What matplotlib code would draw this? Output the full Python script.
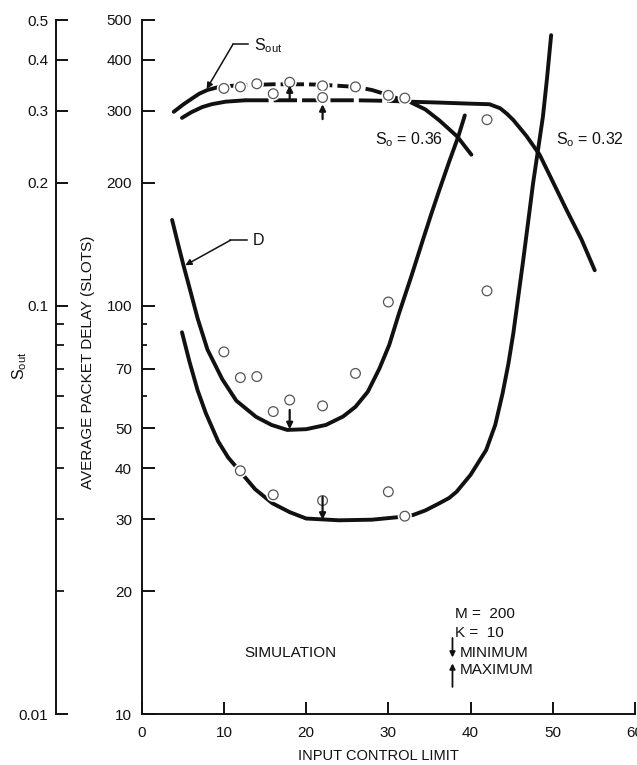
import matplotlib
matplotlib.use("Agg")
import matplotlib.pyplot as plt
import matplotlib.patheffects as pe
from matplotlib.ticker import FixedLocator, FixedFormatter, NullFormatter
import numpy as np

plt.rcParams['font.family'] = ['Liberation Sans', 'DejaVu Sans']
plt.rcParams['mathtext.fontset'] = 'custom'
plt.rcParams['mathtext.rm'] = 'Liberation Sans'
plt.rcParams['mathtext.it'] = 'Liberation Sans:italic'
plt.rcParams['mathtext.bf'] = 'Liberation Sans:bold'

# ---------------- data ----------------
x_ticks = [0, 10, 20, 30, 40, 50, 60]
delay_ticks = [10, 20, 30, 40, 50, 70, 100, 200, 300, 400, 500]
delay_minor = [60, 80, 90]
sout_ticks = [0.01, 0.1, 0.2, 0.3, 0.4, 0.5]
sout_tick_labels = ['0.01', '0.1', '0.2', '0.3', '0.4', '0.5']
sout_minor = [0.02, 0.03, 0.04, 0.05, 0.06, 0.07, 0.08, 0.09]

# S_out curve, S_o = 0.36
sout36_x = [3.9, 5.0, 6.1, 7.0, 8.0, 9.2, 10.0, 12.0, 14.0, 16.0, 18.0, 20.0, 22.0,
            24.0, 26.0, 28.0, 29.9, 31.0, 32.5, 34.5, 36.2, 38.4, 40.1]
sout36_y = [0.298, 0.310, 0.321, 0.330, 0.337, 0.342, 0.344, 0.346, 0.347, 0.348,
            0.348, 0.348, 0.347, 0.345, 0.343, 0.337, 0.328, 0.322, 0.316, 0.302,
            0.284, 0.259, 0.234]
# S_out curve, S_o = 0.32
sout32_x = [4.9, 6.0, 7.35, 8.5, 10.2, 12.6, 15.0, 18.0, 22.0, 26.0, 30.0, 32.6,
            36.0, 40.0, 42.3, 43.6, 44.4, 45.2, 46.8, 48.4, 50.0, 51.7, 53.5, 55.1]
sout32_y = [0.288, 0.297, 0.306, 0.311, 0.3155, 0.318, 0.318, 0.318, 0.318, 0.318,
            0.317, 0.3155, 0.314, 0.312, 0.311, 0.304, 0.295, 0.2845, 0.26, 0.234,
            0.201, 0.171, 0.145, 0.122]
# Delay curve, S_o = 0.36
delay36_x = [3.7, 4.4, 5.1, 6.0, 6.8, 8.0, 9.8, 11.5, 13.9, 15.8, 17.7, 20.0, 22.4,
             24.5, 26.0, 27.5, 28.9, 30.1, 31.3, 32.8, 34.2, 35.2, 36.2, 37.4, 38.5, 39.3]
delay36_y = [162, 142, 125, 107, 93, 78, 66, 58.5, 53.4, 51, 49.6, 49.8, 51, 53.5,
             56.5, 61.5, 70, 80, 95.7, 118, 144.7, 167, 191.7, 225, 259, 292]
# Delay curve, S_o = 0.32
delay32_x = [4.9, 5.8, 6.8, 7.8, 9.3, 10.5, 11.8, 13.8, 15.9, 18.0, 20.0, 24.0, 28.0,
             31.7, 33.0, 34.5, 36.2, 37.4, 38.3, 40.0, 41.9, 43.0, 43.9, 44.6, 45.2,
             45.8, 46.4, 47.0, 47.6, 48.2, 48.8, 49.3, 49.8]
delay32_y = [86, 73, 62, 54.5, 46.5, 42.5, 39.6, 35.5, 32.8, 31.2, 30.1, 29.8, 29.9,
             30.4, 30.7, 31.5, 32.8, 33.8, 35, 38.5, 44.3, 51, 61, 72, 85.5, 105, 129,
             160, 199, 240, 290, 360, 459]

# simulation points
sim_sout_x = [10, 12, 14, 16, 18, 22, 22, 26, 30, 32, 42]
sim_sout_y = [0.340, 0.343, 0.349, 0.330, 0.352, 0.345, 0.323, 0.343, 0.327, 0.322, 0.285]
sim_delay_x = [10, 12, 14, 16, 18, 22, 26, 30, 42, 12, 16, 22, 30, 32]
sim_delay_y = [77, 66.6, 67, 55, 58.7, 56.8, 68.2, 102, 108.6, 39.4, 34.4, 33.3, 35.0, 30.5]

# minimum (delay) and maximum (S_out) markers
min_x = [18, 22]
min_from = [55.5, 34.0]
min_to = [49.8, 29.9]
max_x = [18, 22]
max_from = [0.318, 0.286]
max_to = [0.346, 0.311]

# ---------------- figure ----------------
W, H = 637, 765
fig = plt.figure(figsize=(W / 100, H / 100), dpi=100)
L, R, B, T = 141.7, 635.0, 714.0, 20.0
ax = fig.add_axes([L / W, 1 - B / H, (R - L) / W, (B - T) / H])
ax.set_xlim(0, 60)
ax.set_yscale('log')
ax.set_ylim(10, 500)

ax2 = ax.twinx()
ax2.set_yscale('log')
ax2.set_ylim(0.01, 0.5)

CLW = 2.8
INK = '#111111'
TFS = 11      # tick label size
AFS = 11      # axis label size
NFS = 11      # annotation size

# spines
for a in (ax, ax2):
    a.spines['top'].set_visible(False)
    a.spines['right'].set_visible(False)
ax2.spines['bottom'].set_visible(False)
ax2.spines['left'].set_visible(True)
ax2.spines['left'].set_position(('axes', (56.5 - L) / (R - L)))
for sp in (ax.spines['left'], ax.spines['bottom'], ax2.spines['left']):
    sp.set_linewidth(1.4)
    sp.set_color(INK)

# ticks main
ax.set_xticks(x_ticks)
ax.tick_params(axis='x', direction='in', length=8.5, width=1.4, pad=8.5, labelsize=TFS, colors=INK)
ax.yaxis.set_major_locator(FixedLocator(delay_ticks))
ax.yaxis.set_major_formatter(FixedFormatter([str(v) for v in delay_ticks]))
ax.yaxis.set_minor_locator(FixedLocator(delay_minor))
ax.yaxis.set_minor_formatter(NullFormatter())
ax.tick_params(axis='y', which='major', direction='in', length=9.5, width=1.4, pad=7, labelsize=TFS, colors=INK)
ax.tick_params(axis='y', which='minor', direction='in', length=3.8, width=1.2)

# ticks S_out
ax2.yaxis.tick_left()
ax2.yaxis.set_major_locator(FixedLocator(sout_ticks))
ax2.yaxis.set_major_formatter(FixedFormatter(sout_tick_labels))
ax2.yaxis.set_minor_locator(FixedLocator(sout_minor))
ax2.yaxis.set_minor_formatter(NullFormatter())
ax2.tick_params(axis='y', which='major', direction='in', length=8.5, width=1.4, pad=6, labelsize=TFS, colors=INK)
ax2.tick_params(axis='y', which='minor', direction='in', length=5.5, width=1.2)

# ---------------- curves ----------------
def seg_plot(a, xs, ys, dash_lo, dash_hi, **kw):
    xs = np.asarray(xs); ys = np.asarray(ys)
    m1 = xs <= dash_lo
    m2 = (xs >= dash_lo) & (xs <= dash_hi)
    m3 = xs >= dash_hi
    a.plot(xs[m1], ys[m1], color=INK, lw=CLW, solid_capstyle='round', solid_joinstyle='round', **kw)
    a.plot(xs[m2], ys[m2], color=INK, lw=CLW, dashes=(6, 1.3), dash_capstyle='butt', **kw)
    a.plot(xs[m3], ys[m3], color=INK, lw=CLW, solid_capstyle='round', solid_joinstyle='round', **kw)

seg_plot(ax2, sout36_x, sout36_y, 10.0, 32.5, zorder=3)
seg_plot(ax2, sout32_x, sout32_y, 12.6, 30.0, zorder=3)

ax.plot(delay36_x, delay36_y, color=INK, lw=CLW, solid_capstyle='round', solid_joinstyle='round', zorder=3)
ax.plot(delay32_x, delay32_y, color=INK, lw=CLW, solid_capstyle='round', solid_joinstyle='round', zorder=3)

# simulation points
halo = [pe.withStroke(linewidth=3.2, foreground='white')]
ax2.plot(sim_sout_x, sim_sout_y, linestyle='none', marker='o', ms=7, mfc='white',
         mec='#555555', mew=0.9, zorder=5, path_effects=halo)
ax.plot(sim_delay_x, sim_delay_y, linestyle='none', marker='o', ms=7, mfc='white',
        mec='#555555', mew=0.9, zorder=5, path_effects=halo)

# min / max arrows
arr = dict(arrowstyle='-|>', lw=1.6, color=INK, mutation_scale=9, shrinkA=0, shrinkB=0)
for xv, y0, y1 in zip(min_x, min_from, min_to):
    ax.annotate('', xy=(xv, y1), xytext=(xv, y0), arrowprops=arr, zorder=6)
for xv, y0, y1 in zip(max_x, max_from, max_to):
    ax2.annotate('', xy=(xv, y1), xytext=(xv, y0), arrowprops=arr, zorder=6)

# ---------------- annotations ----------------
thin = dict(arrowstyle='-|>', lw=1.1, color=INK, mutation_scale=9, shrinkA=0, shrinkB=0)
# S_out pointer
ax2.plot([11.1, 12.9], [0.436, 0.436], color=INK, lw=1.1)
ax2.annotate('', xy=(7.9, 0.339), xytext=(11.1, 0.436), arrowprops=thin)
ax2.text(13.6, 0.432, r'S$_{\mathrm{out}}$', fontsize=NFS + 0.5, va='center', ha='left', color=INK)
# D pointer
ax.plot([10.8, 12.8], [144.5, 144.5], color=INK, lw=1.1)
ax.annotate('', xy=(5.3, 125.5), xytext=(10.8, 144.5), arrowprops=thin)
ax.text(13.5, 144, 'D', fontsize=NFS + 0.5, va='center', ha='left', color=INK)

ax.text(28.4, 254, r'S$_{\mathrm{o}}$ = 0.36', fontsize=NFS + 0.5, va='center', ha='left', color=INK)
ax.text(50.4, 254, r'S$_{\mathrm{o}}$ = 0.32', fontsize=NFS + 0.5, va='center', ha='left', color=INK)

# legend block
LFS = 11
ax.text(18.1, 14.1, 'SIMULATION', fontsize=LFS, va='center', ha='center', color=INK)
ax.text(38.1, 17.6, 'M =  200', fontsize=LFS, va='center', ha='left', color=INK)
ax.text(38.1, 15.8, 'K =  10', fontsize=LFS, va='center', ha='left', color=INK)
ax.text(38.7, 14.1, 'MINIMUM', fontsize=LFS, va='center', ha='left', color=INK)
ax.text(38.7, 12.8, 'MAXIMUM', fontsize=LFS, va='center', ha='left', color=INK)
leg_arr = dict(arrowstyle='-|>', lw=1.3, color=INK, mutation_scale=8, shrinkA=0, shrinkB=0)
ax.annotate('', xy=(37.8, 13.75), xytext=(37.8, 15.35), arrowprops=leg_arr)
ax.annotate('', xy=(37.8, 13.3), xytext=(37.8, 11.65), arrowprops=leg_arr)

# axis labels
fig.text(88 / W, 1 - 362 / H, 'AVERAGE PACKET DELAY (SLOTS)', rotation=90,
         fontsize=AFS, ha='center', va='center', color=INK)
fig.text(20 / W, 1 - 366 / H, r'S$_{\mathrm{out}}$', rotation=90,
         fontsize=AFS + 0.5, ha='center', va='center', color=INK)
fig.text(378 / W, 1 - 756 / H, 'INPUT CONTROL LIMIT', fontsize=10.5,
         ha='center', va='center', color=INK)

fig.savefig('out.png', dpi=100)
